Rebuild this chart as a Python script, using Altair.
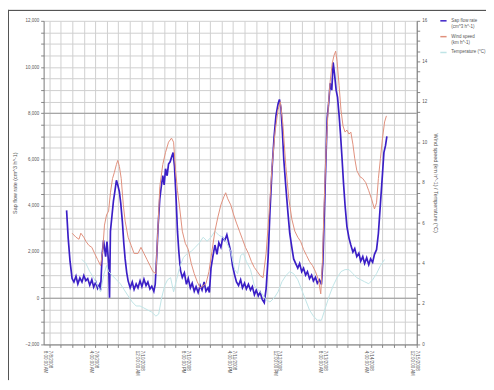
import altair as alt
import pandas as pd

# hours since 7/8/2008 8:00 AM
sap_h = [7.5, 8.2, 9.0, 9.9, 10.7, 11.6, 12.4, 13.3, 14.2, 15.0, 15.9, 16.7, 17.6, 18.5, 19.3, 20.2, 21.0, 21.9, 22.3,
         23.0, 23.6, 24.5, 25.1, 25.8, 26.2, 26.6, 27.3, 27.9, 28.5, 29.2, 29.8, 30.5, 31.1, 31.8, 32.4, 33.0, 33.7,
         34.3, 35.2, 36.1, 36.9, 37.8, 38.6, 39.5, 40.3, 41.2, 42.1, 42.9, 43.8, 44.6, 45.5, 46.1, 46.8, 47.4, 48.1,
         48.7, 49.4, 50.0, 50.6, 51.3, 51.9, 52.6, 53.2, 53.9, 54.5, 55.2, 55.8, 56.4, 57.1, 57.9, 58.8, 59.7, 60.5,
         61.4, 62.2, 63.1, 63.9, 64.8, 65.7, 66.5, 67.4, 68.2, 69.1, 69.7, 70.4, 71.2, 72.1, 73.0, 73.8, 74.7, 75.5,
         76.4, 77.3, 78.1, 79.0, 79.8, 80.7, 81.5, 82.4, 83.3, 84.1, 85.0, 85.8, 86.7, 87.6, 88.4, 89.3, 90.1, 91.0,
         91.8, 92.7, 93.6, 94.4, 95.3, 96.1, 97.0, 97.9, 98.7, 99.6, 100.2, 100.9, 101.5, 102.1, 103.0, 103.9, 104.7,
         105.6, 106.4, 107.3, 108.2, 109.0, 109.9, 110.7, 111.6, 112.4, 113.3, 114.2, 115.0, 115.9, 116.7, 117.6,
         118.5, 119.1, 119.7, 120.4, 121.0, 121.7, 122.3, 123.0, 123.6, 124.2, 124.9, 125.5, 126.2, 126.8, 127.5,
         128.1, 128.8, 129.6, 130.5, 131.3, 132.2, 133.0, 133.9, 134.8, 135.6, 136.5, 137.3, 138.2, 139.1, 139.9,
         140.8, 141.6, 142.5, 143.3, 144.2, 145.1, 145.7, 146.4, 147.0]
sap_v = [3800, 2600, 1600, 850, 700, 950, 620, 880, 700, 980, 760, 850, 560, 800, 480, 700, 420, 600, 350,
         1900, 2500, 1800, 2450, 1500, 20, 2900, 3600, 4200, 4600, 5100, 4900, 4600, 4100, 3300, 2400, 1700, 1100,
         750, 450, 700, 380, 620, 450, 750, 500, 820, 550, 700, 400, 520, 300, 600, 1900, 3200, 4300,
         4800, 5300, 4900, 5600, 5300, 5800, 5900, 6100, 6300, 5700, 4300, 2900, 2000, 1200, 900, 1100, 600, 850,
         450, 650, 300, 500, 250, 550, 350, 700, 300, 450, 250, 1300, 1800, 2300, 1900, 2400, 2200, 2600,
         2500, 2750, 2400, 2000, 1400, 1000, 700, 550, 800, 450, 650, 400, 600, 350, 500, 150, 350, 100,
         250, -50, -200, 400, 1800, 3800, 5600, 7000, 7900, 8400, 8600, 8200, 7200, 6000, 4800, 3700, 2800,
         2200, 1700, 1500, 1300, 1500, 1150, 1300, 1000, 1150, 850, 1000, 750, 900, 650, 800,
         600, 1500, 3500, 5800, 7800, 8500, 9300, 9000, 10200, 9700, 9000, 8700, 7900, 7100, 6000,
         5000, 4000, 3100, 2600, 2300, 2000, 2150, 1800, 1950, 1600, 1800, 1500, 1750, 1450, 1700,
         1550, 1900, 2100, 2800, 4100, 5400, 6300, 6600, 7000]

wind_h = [9.9, 11.6, 12.9, 13.7, 15.0, 15.9, 17.2, 18.5, 19.7, 21.0, 22.3, 23.2, 24.0, 24.9, 25.8, 26.6, 27.5, 28.3,
          29.2, 29.8, 30.5, 31.3, 32.2, 33.0, 34.3, 35.6, 36.9, 38.6, 39.9, 41.2, 42.5, 43.8, 45.1, 46.4, 47.2, 48.1,
          49.4, 50.6, 51.9, 53.2, 54.1, 54.9, 55.8, 56.7, 57.9, 59.2, 60.5, 61.8, 63.1, 64.4, 65.7, 66.9, 68.2, 69.5,
          70.8, 72.1, 73.4, 74.7, 76.0, 76.8, 77.7, 79.0, 80.3, 81.5, 82.8, 84.1, 85.4, 86.7, 88.0, 89.3, 90.6, 91.8,
          93.1, 94.4, 95.7, 97.0, 98.3, 99.6, 100.6, 101.7, 103.0, 104.3, 105.6, 106.9, 108.2, 109.4, 110.7, 112.0,
          113.3, 114.6, 115.9, 117.2, 118.2, 118.9, 119.7, 120.6, 121.5, 122.3, 123.2, 124.0, 124.7, 125.3, 126.2,
          127.0, 127.9, 128.8, 129.6, 130.5, 131.3, 132.2, 133.0, 133.9, 135.2, 136.5, 137.8, 139.1, 140.3, 141.6,
          142.5, 143.3, 144.2, 145.1, 146.0, 146.8]
wind_v = [5.5, 5.3, 5.2, 5.5, 5.3, 5.1, 4.9, 4.8, 4.5, 4.2, 3.9, 4.6, 5.9, 6.4, 6.6, 7.5, 8.2, 8.5,
          8.9, 9.1, 8.8, 8.2, 6.9, 6.1, 5.3, 4.9, 4.5, 4.5, 4.8, 4.5, 4.2, 3.9, 3.6, 3.5, 5.5, 7.8,
          8.9, 9.5, 10.0, 10.2, 10.0, 8.7, 7.6, 6.8, 5.6, 5.0, 4.7, 4.0, 3.5, 3.1, 2.8, 2.9, 3.0, 3.6,
          4.6, 5.6, 6.3, 6.9, 7.3, 7.5, 7.2, 6.9, 6.4, 6.0, 5.6, 5.2, 4.8, 4.5, 4.1, 3.8, 3.6, 3.4,
          3.3, 4.5, 6.5, 8.8, 10.5, 11.6, 12.0, 10.9, 8.8, 7.2, 6.2, 5.6, 5.3, 5.1, 4.7, 4.4,
          4.1, 3.9, 3.6, 3.2, 2.5, 4.0, 7.0, 9.8, 11.8, 13.0, 13.9, 14.3, 14.5, 14.0, 12.8,
          11.6, 10.8, 10.5, 10.6, 10.4, 10.5, 9.9, 9.2, 8.6, 8.3, 8.2, 8.0, 7.6, 7.2, 6.7,
          7.0, 8.2, 9.2, 10.2, 11.0, 11.3]

temp_h = [14.2, 15.9, 17.6, 19.3, 21.0, 22.3, 23.6, 24.9, 25.8, 27.5, 29.2, 30.9, 32.6, 34.3, 36.1, 37.8, 39.5,
          41.2, 42.9, 44.6, 46.4, 47.6, 48.9, 50.2, 51.5, 52.8, 54.1, 55.4, 56.7, 58.4, 60.1, 61.8, 63.5, 65.2,
          67.0, 68.7, 70.4, 72.1, 73.8, 75.5, 77.3, 79.0, 80.7, 82.0, 83.3, 84.5, 85.8, 87.6, 89.3, 91.0, 92.7,
          94.4, 96.1, 97.9, 99.6, 101.3, 103.0, 104.7, 106.4, 108.2, 109.9, 111.6, 113.3, 115.0, 116.7, 118.5,
          120.2, 121.9, 123.6, 125.3, 127.0, 128.8, 130.5, 132.2, 133.9, 135.6, 137.3, 139.1, 140.8, 142.5,
          144.2, 146.0]
temp_v = [4.2, 4.0, 3.6, 3.3, 2.9, 2.6, 3.4, 3.9, 3.6, 3.4, 3.2, 3.0, 2.7, 2.4, 2.1, 1.9, 1.9,
          1.8, 1.7, 1.6, 1.4, 1.5, 2.3, 2.9, 3.2, 3.3, 2.6, 3.2, 3.8, 4.3, 4.5, 4.6, 4.8, 5.0,
          5.3, 5.1, 5.3, 5.6, 5.4, 5.3, 5.0, 4.6, 3.7, 3.5, 4.4, 4.5, 4.1, 3.7, 2.9, 2.7, 2.5,
          2.2, 2.1, 2.3, 2.6, 3.1, 3.4, 3.6, 3.5, 3.2, 2.7, 2.2, 1.7, 1.4, 1.2, 1.2,
          1.8, 2.4, 2.9, 3.3, 3.6, 3.7, 3.7, 3.5, 3.3, 3.2, 3.1, 3.0, 3.2, 3.5,
          3.9, 4.2]

series_names = ["Sap flow rate (cm^3 h^-1)", "Wind speed (km h^-1)", "Temperature (°C)"]
series_colors = ["#3b1fc6", "#e0907c", "#bfe4e6"]

x_label_dates = ["7/8/2008", "7/9/2008", "7/10/2008", "7/10/2008", "7/11/2008",
                 "7/12/2008", "7/13/2008", "7/14/2008", "7/15/2008"]
x_label_times = ["8:00:00 AM", "4:00:00 AM", "12:00:00 AM", "8:00:00 PM", "4:00:00 PM",
                 "12:00:00 PM", "8:00:00 AM", "4:00:00 AM", "12:00:00 AM"]

sap_df = pd.DataFrame({"h": sap_h, "v": sap_v, "series": series_names[0]})
right_df = pd.concat([
    pd.DataFrame({"h": temp_h, "v": temp_v, "series": series_names[2]}),
    pd.DataFrame({"h": wind_h, "v": wind_v, "series": series_names[1]}),
])
ref_df = pd.DataFrame({"y": [0, 8000]})

W, H = 377, 327
GRID = "#cfcfcf"

lab_arr = "[" + ",".join("['%s','%s']" % (d, t) for d, t in zip(x_label_dates, x_label_times)) + "]"
x_enc = alt.X("h:Q", scale=alt.Scale(domain=[-2.5, 160], nice=False, zero=False),
              axis=alt.Axis(values=list(range(0, 161, 5)), title=None, labelAngle=90,
                            labelExpr="datum.value % 20 == 0 ? " + lab_arr + "[datum.value/20] : ''",
                            grid=True, gridColor=GRID, gridOpacity=1, labelFontSize=4.5, labelPadding=3,
                            labelLineHeight=5, labelAlign="left", labelBaseline="middle"))

# legend labels wrapped so they fit in the window
legend_expr = ("datum.label == 'Sap flow rate (cm^3 h^-1)' ? ['Sap flow rate', '(cm^3 h^-1)'] : "
               "datum.label == 'Wind speed (km h^-1)' ? ['Wind speed', '(km h^-1)'] : datum.label")
color = alt.Color("series:N", scale=alt.Scale(domain=series_names, range=series_colors),
                  legend=alt.Legend(orient="none", legendX=400, legendY=-4, title=None,
                                    symbolType="stroke", symbolSize=40, symbolStrokeWidth=1.5,
                                    labelFontSize=4.5, labelColor="#555", rowPadding=4,
                                    labelLimit=300, labelExpr=legend_expr))

left_scale = alt.Scale(domain=[-2000, 12000], nice=False, zero=False)
left_axis = alt.Axis(orient="left", values=list(range(-2000, 12001, 500)),
                     labelExpr="datum.value % 2000 == 0 ? format(datum.value, ',') : ''",
                     title="Sap flow rate (cm^3 h^-1)", grid=True, gridColor=GRID, gridOpacity=1,
                     labelFontSize=4.5, titleFontSize=5.5, titleFontWeight="normal",
                     titleColor="#555", titlePadding=8)

refs = alt.Chart(ref_df).mark_rule(color="#999999", strokeWidth=1).encode(
    y=alt.Y("y:Q", scale=left_scale, axis=left_axis))
sap = alt.Chart(sap_df).mark_line(strokeWidth=1.7).encode(
    x=x_enc, y=alt.Y("v:Q", scale=left_scale, axis=left_axis), color=color)

right = alt.Chart(right_df).mark_line(strokeWidth=1).encode(
    x=x_enc,
    y=alt.Y("v:Q", scale=alt.Scale(domain=[0, 16], nice=False, zero=False),
            axis=alt.Axis(orient="right", values=[i / 2 for i in range(0, 33)],
                          labelExpr="datum.value % 2 == 0 ? datum.value : ''",
                          title="Wind speed (km h^-1) / Temperature (°C)", grid=False,
                          labelFontSize=4.5, titleFontSize=5.5, titleFontWeight="normal",
                          titleColor="#555", titleAngle=90, titlePadding=6)),
    color=color, detail="series:N")

frame_top = alt.Chart(ref_df).mark_rule(color="#555", strokeWidth=1).encode(
    x=alt.value(-36), x2=alt.value(W + 70), y=alt.value(-10.5))
frame_left = alt.Chart(ref_df).mark_rule(color="#555", strokeWidth=1).encode(
    x=alt.value(-35.5), y=alt.value(-11), y2=alt.value(H + 36))

left_layer = alt.layer(refs, sap)
chart = alt.layer(left_layer, right, frame_top, frame_left).resolve_scale(y="independent").properties(
    width=W, height=H,
    autosize=alt.AutoSizeParams(type="none"),
    padding={"left": 36, "top": 11, "right": 70, "bottom": 36},
).configure_axis(
    labelColor="#555", tickColor="#888", domainColor="#777", tickSize=3, labelFont="Liberation Sans",
    titleFont="Liberation Sans"
).configure_legend(labelFont="Liberation Sans").configure_view(stroke=None)

chart.save("out.html", embed_options={"renderer": "svg", "actions": False})
